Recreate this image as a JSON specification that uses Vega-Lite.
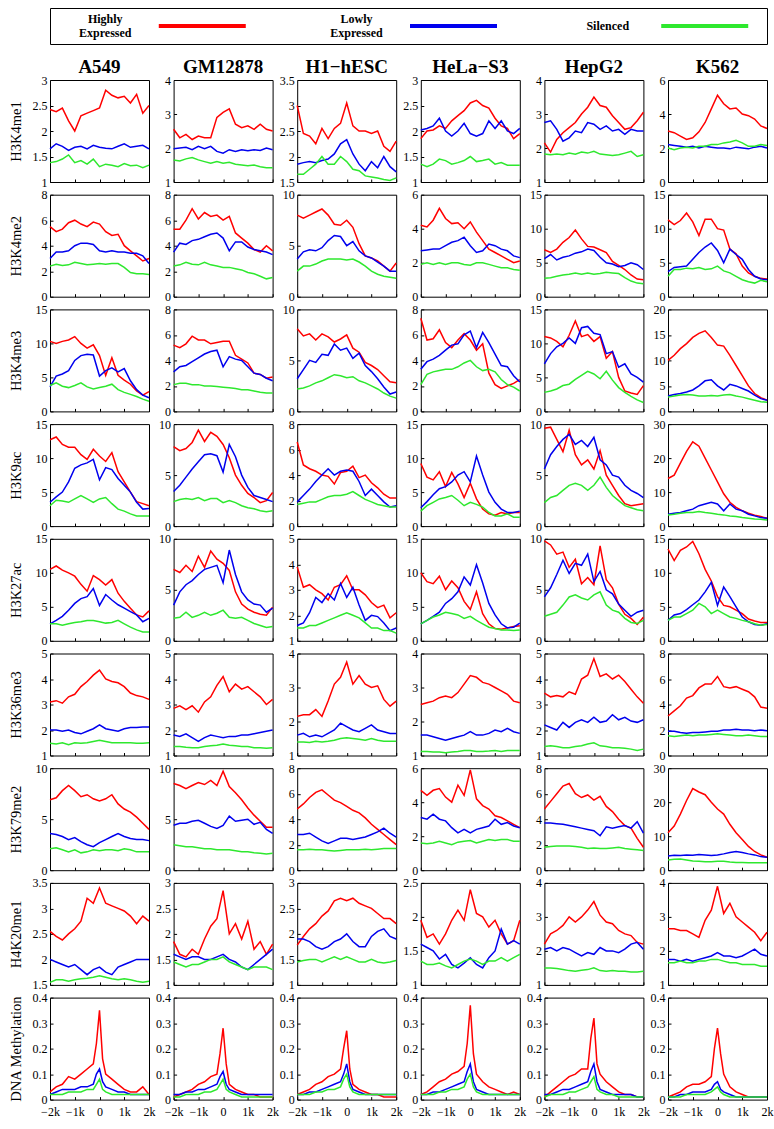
{
"$schema":"https://vega.github.io/schema/vega-lite/v6.json",
"padding":{"left":7,"top":7,"right":5,"bottom":5},
"background":"white",
"config":{
"font":"Liberation Serif",
"view":{"stroke":"black","strokeWidth":1,"continuousWidth":99,"continuousHeight":102},
"axis":{"domain":false,"grid":false,"ticks":true,"tickSize":-3,"tickColor":"black","labelPadding":6,"labelFont":"Liberation Serif","labelFontSize":12,"labelColor":"black","labelOverlap":false,"labelFlush":false,"titleFont":"Liberation Serif","titleFontSize":14.5,"titleFontWeight":"normal","titleColor":"black"},
"axisX":{"labels":false,"tickCount":5,"labelPadding":10,"labelExpr":"datum.value == 0 ? '0' : (datum.value < 0 ? '−' : '') + (abs(datum.value)/1000) + 'k'"},
"axisY":{"labelExpr":"format(datum.value, '~g')","titleX":-30,"titleBaseline":"alphabetic"},
"line":{"strokeWidth":1.5,"clip":true},
"range":{"category":["#ff0000","#0000ee","#2ee82e"]},
"title":{"font":"Liberation Serif","fontSize":19,"fontWeight":"bold","color":"black","anchor":"middle","baseline":"alphabetic","offset":-2.5},
"legend":{"disable":true}
},
"datasets":{
"A549 H3K4me1":[{"x":-2000,"H":2.42,"L":1.65,"S":1.38},{"x":-1750,"H":2.38,"L":1.75,"S":1.4},{"x":-1500,"H":2.45,"L":1.7,"S":1.45},{"x":-1250,"H":2.2,"L":1.62,"S":1.53},{"x":-1000,"H":2.0,"L":1.68,"S":1.38},{"x":-750,"H":2.3,"L":1.7,"S":1.42},{"x":-500,"H":2.35,"L":1.65,"S":1.35},{"x":-250,"H":2.4,"L":1.72,"S":1.45},{"x":0,"H":2.45,"L":1.68,"S":1.3},{"x":250,"H":2.8,"L":1.66,"S":1.35},{"x":500,"H":2.7,"L":1.65,"S":1.33},{"x":750,"H":2.65,"L":1.7,"S":1.3},{"x":1000,"H":2.68,"L":1.75,"S":1.36},{"x":1250,"H":2.55,"L":1.68,"S":1.32},{"x":1500,"H":2.72,"L":1.7,"S":1.33},{"x":1750,"H":2.35,"L":1.72,"S":1.28},{"x":2000,"H":2.5,"L":1.65,"S":1.33}],
"GM12878 H3K4me1":[{"x":-2000,"H":2.55,"L":1.98,"S":1.65},{"x":-1750,"H":2.3,"L":2.0,"S":1.62},{"x":-1500,"H":2.4,"L":2.02,"S":1.68},{"x":-1250,"H":2.25,"L":1.95,"S":1.72},{"x":-1000,"H":2.35,"L":2.05,"S":1.65},{"x":-750,"H":2.3,"L":1.98,"S":1.6},{"x":-500,"H":2.3,"L":2.05,"S":1.55},{"x":-250,"H":2.9,"L":1.9,"S":1.6},{"x":0,"H":3.05,"L":1.85,"S":1.55},{"x":250,"H":3.15,"L":1.95,"S":1.58},{"x":500,"H":2.7,"L":1.9,"S":1.52},{"x":750,"H":2.6,"L":1.95,"S":1.5},{"x":1000,"H":2.65,"L":1.92,"S":1.48},{"x":1250,"H":2.55,"L":1.95,"S":1.5},{"x":1500,"H":2.7,"L":1.93,"S":1.45},{"x":1750,"H":2.55,"L":2.0,"S":1.42},{"x":2000,"H":2.5,"L":1.95,"S":1.42}],
"H1 H3K4me1":[{"x":-2000,"H":3.0,"L":1.85,"S":1.65},{"x":-1750,"H":2.45,"L":1.88,"S":1.65},{"x":-1500,"H":2.4,"L":1.9,"S":1.75},{"x":-1250,"H":2.25,"L":1.88,"S":1.85},{"x":-1000,"H":2.55,"L":1.92,"S":2.0},{"x":-750,"H":2.35,"L":1.95,"S":1.85},{"x":-500,"H":2.55,"L":2.05,"S":1.85},{"x":-250,"H":2.65,"L":2.25,"S":2.0},{"x":0,"H":3.05,"L":2.33,"S":1.9},{"x":250,"H":2.6,"L":2.05,"S":1.75},{"x":500,"H":2.5,"L":1.85,"S":1.72},{"x":750,"H":2.5,"L":1.72,"S":1.62},{"x":1000,"H":2.45,"L":1.9,"S":1.6},{"x":1250,"H":2.5,"L":1.78,"S":1.58},{"x":1500,"H":2.2,"L":2.0,"S":1.55},{"x":1750,"H":2.1,"L":1.8,"S":1.53},{"x":2000,"H":2.3,"L":1.7,"S":1.58}],
"HeLa H3K4me1":[{"x":-2000,"H":1.85,"L":2.02,"S":1.35},{"x":-1750,"H":2.0,"L":2.05,"S":1.3},{"x":-1500,"H":2.02,"L":2.1,"S":1.35},{"x":-1250,"H":2.1,"L":2.25,"S":1.45},{"x":-1000,"H":2.05,"L":2.0,"S":1.42},{"x":-750,"H":2.2,"L":1.9,"S":1.35},{"x":-500,"H":2.3,"L":2.0,"S":1.38},{"x":-250,"H":2.4,"L":2.15,"S":1.42},{"x":0,"H":2.55,"L":1.95,"S":1.5},{"x":250,"H":2.6,"L":1.9,"S":1.4},{"x":500,"H":2.5,"L":1.95,"S":1.42},{"x":750,"H":2.45,"L":2.2,"S":1.45},{"x":1000,"H":2.25,"L":2.05,"S":1.35},{"x":1250,"H":2.1,"L":2.2,"S":1.38},{"x":1500,"H":2.05,"L":2.0,"S":1.33},{"x":1750,"H":1.85,"L":1.95,"S":1.33},{"x":2000,"H":1.95,"L":2.05,"S":1.33}],
"HepG2 H3K4me1":[{"x":-2000,"H":2.15,"L":2.75,"S":1.82},{"x":-1750,"H":1.88,"L":2.8,"S":1.8},{"x":-1500,"H":2.25,"L":2.55,"S":1.82},{"x":-1250,"H":2.45,"L":2.2,"S":1.8},{"x":-1000,"H":2.6,"L":2.3,"S":1.85},{"x":-750,"H":2.75,"L":2.5,"S":1.82},{"x":-500,"H":3.0,"L":2.45,"S":1.88},{"x":-250,"H":3.2,"L":2.75,"S":1.85},{"x":0,"H":3.5,"L":2.7,"S":1.9},{"x":250,"H":3.25,"L":2.55,"S":1.82},{"x":500,"H":3.2,"L":2.65,"S":1.8},{"x":750,"H":2.95,"L":2.5,"S":1.78},{"x":1000,"H":2.75,"L":2.55,"S":1.8},{"x":1250,"H":2.55,"L":2.4,"S":1.85},{"x":1500,"H":2.6,"L":2.55,"S":1.9},{"x":1750,"H":2.8,"L":2.5,"S":1.75},{"x":2000,"H":3.05,"L":2.5,"S":1.8}],
"K562 H3K4me1":[{"x":-2000,"H":3.0,"L":2.2,"S":2.0},{"x":-1750,"H":2.9,"L":2.15,"S":1.9},{"x":-1500,"H":2.7,"L":2.1,"S":2.0},{"x":-1250,"H":2.5,"L":2.05,"S":2.05},{"x":-1000,"H":2.6,"L":2.1,"S":2.0},{"x":-750,"H":2.95,"L":2.0,"S":2.1},{"x":-500,"H":3.5,"L":2.1,"S":2.1},{"x":-250,"H":4.3,"L":2.05,"S":2.2},{"x":0,"H":5.1,"L":2.0,"S":2.2},{"x":250,"H":4.6,"L":2.0,"S":2.3},{"x":500,"H":4.3,"L":1.95,"S":2.35},{"x":750,"H":4.35,"L":2.05,"S":2.45},{"x":1000,"H":4.0,"L":2.0,"S":2.3},{"x":1250,"H":3.9,"L":1.95,"S":2.1},{"x":1500,"H":3.7,"L":2.05,"S":2.1},{"x":1750,"H":3.3,"L":2.1,"S":2.2},{"x":2000,"H":3.15,"L":2.0,"S":2.15}],
"A549 H3K4me2":[{"x":-2000,"H":5.5,"L":3.0,"S":2.4},{"x":-1750,"H":5.1,"L":3.5,"S":2.55},{"x":-1500,"H":5.3,"L":3.5,"S":2.45},{"x":-1250,"H":5.8,"L":3.6,"S":2.5},{"x":-1000,"H":6.0,"L":4.0,"S":2.7},{"x":-750,"H":5.7,"L":4.2,"S":2.6},{"x":-500,"H":5.5,"L":4.2,"S":2.5},{"x":-250,"H":5.85,"L":4.1,"S":2.55},{"x":0,"H":5.7,"L":3.6,"S":2.6},{"x":250,"H":5.1,"L":3.5,"S":2.55},{"x":500,"H":4.8,"L":3.6,"S":2.6},{"x":750,"H":4.9,"L":3.5,"S":2.6},{"x":1000,"H":4.0,"L":3.5,"S":2.3},{"x":1250,"H":3.6,"L":3.4,"S":1.9},{"x":1500,"H":3.2,"L":3.4,"S":1.8},{"x":1750,"H":2.8,"L":3.2,"S":1.8},{"x":2000,"H":3.0,"L":2.6,"S":1.75}],
"GM12878 H3K4me2":[{"x":-2000,"H":5.3,"L":3.5,"S":2.4},{"x":-1750,"H":5.3,"L":4.2,"S":2.5},{"x":-1500,"H":6.0,"L":4.1,"S":2.7},{"x":-1250,"H":6.9,"L":4.4,"S":2.55},{"x":-1000,"H":6.1,"L":4.5,"S":2.5},{"x":-750,"H":6.6,"L":4.7,"S":2.7},{"x":-500,"H":6.3,"L":4.9,"S":2.5},{"x":-250,"H":6.4,"L":5.0,"S":2.4},{"x":0,"H":6.0,"L":4.6,"S":2.3},{"x":250,"H":6.3,"L":3.6,"S":2.3},{"x":500,"H":5.0,"L":4.3,"S":2.2},{"x":750,"H":4.6,"L":4.3,"S":2.1},{"x":1000,"H":4.2,"L":3.9,"S":1.9},{"x":1250,"H":3.7,"L":3.7,"S":1.8},{"x":1500,"H":3.5,"L":3.6,"S":1.6},{"x":1750,"H":4.0,"L":3.5,"S":1.4},{"x":2000,"H":3.6,"L":3.3,"S":1.5}],
"H1 H3K4me2":[{"x":-2000,"H":8.0,"L":3.7,"S":2.5},{"x":-1750,"H":7.7,"L":4.4,"S":3.0},{"x":-1500,"H":8.0,"L":4.6,"S":3.0},{"x":-1250,"H":8.3,"L":4.5,"S":3.2},{"x":-1000,"H":8.6,"L":4.8,"S":3.5},{"x":-750,"H":8.0,"L":5.5,"S":3.7},{"x":-500,"H":7.1,"L":6.0,"S":3.7},{"x":-250,"H":7.0,"L":5.9,"S":3.7},{"x":0,"H":7.5,"L":5.0,"S":3.6},{"x":250,"H":6.8,"L":5.4,"S":3.7},{"x":500,"H":5.2,"L":4.5,"S":3.4},{"x":750,"H":4.0,"L":4.0,"S":3.0},{"x":1000,"H":3.8,"L":3.8,"S":2.5},{"x":1250,"H":3.5,"L":3.4,"S":2.2},{"x":1500,"H":3.0,"L":3.0,"S":2.0},{"x":1750,"H":2.5,"L":2.5,"S":1.9},{"x":2000,"H":3.3,"L":2.5,"S":1.8}],
"HeLa H3K4me2":[{"x":-2000,"H":4.2,"L":2.7,"S":1.9},{"x":-1750,"H":4.1,"L":2.75,"S":2.0},{"x":-1500,"H":4.5,"L":2.8,"S":1.9},{"x":-1250,"H":5.2,"L":2.8,"S":2.0},{"x":-1000,"H":4.6,"L":3.0,"S":1.9},{"x":-750,"H":4.3,"L":3.2,"S":2.0},{"x":-500,"H":4.35,"L":3.3,"S":2.0},{"x":-250,"H":4.0,"L":3.5,"S":1.9},{"x":0,"H":4.4,"L":3.0,"S":1.85},{"x":250,"H":3.8,"L":2.6,"S":2.0},{"x":500,"H":3.3,"L":2.7,"S":2.0},{"x":750,"H":2.8,"L":3.1,"S":1.9},{"x":1000,"H":2.6,"L":3.0,"S":1.8},{"x":1250,"H":2.4,"L":2.8,"S":1.7},{"x":1500,"H":2.2,"L":2.7,"S":1.7},{"x":1750,"H":2.0,"L":2.4,"S":1.6},{"x":2000,"H":2.1,"L":2.3,"S":1.55}],
"HepG2 H3K4me2":[{"x":-2000,"H":6.9,"L":5.6,"S":2.7},{"x":-1750,"H":6.5,"L":6.2,"S":2.8},{"x":-1500,"H":7.0,"L":5.4,"S":3.0},{"x":-1250,"H":8.0,"L":5.8,"S":3.2},{"x":-1000,"H":8.7,"L":6.0,"S":3.3},{"x":-750,"H":9.8,"L":6.4,"S":3.5},{"x":-500,"H":8.5,"L":6.6,"S":3.3},{"x":-250,"H":7.4,"L":7.0,"S":3.5},{"x":0,"H":7.3,"L":6.8,"S":3.3},{"x":250,"H":6.9,"L":5.8,"S":3.4},{"x":500,"H":6.5,"L":5.0,"S":3.6},{"x":750,"H":5.2,"L":4.8,"S":3.5},{"x":1000,"H":4.6,"L":4.4,"S":3.4},{"x":1250,"H":4.0,"L":4.6,"S":2.8},{"x":1500,"H":3.2,"L":5.0,"S":2.3},{"x":1750,"H":2.6,"L":4.7,"S":2.0},{"x":2000,"H":2.5,"L":4.0,"S":1.9}],
"K562 H3K4me2":[{"x":-2000,"H":11.3,"L":3.7,"S":3.0},{"x":-1750,"H":10.6,"L":4.3,"S":4.0},{"x":-1500,"H":11.2,"L":4.4,"S":4.0},{"x":-1250,"H":12.3,"L":4.5,"S":4.2},{"x":-1000,"H":11.0,"L":5.5,"S":4.1},{"x":-750,"H":9.0,"L":6.5,"S":4.3},{"x":-500,"H":11.4,"L":7.3,"S":4.0},{"x":-250,"H":11.4,"L":7.9,"S":4.1},{"x":0,"H":10.0,"L":6.8,"S":4.5},{"x":250,"H":9.8,"L":5.0,"S":3.8},{"x":500,"H":7.0,"L":7.0,"S":3.5},{"x":750,"H":6.3,"L":6.2,"S":3.0},{"x":1000,"H":4.5,"L":5.5,"S":2.5},{"x":1250,"H":3.5,"L":4.0,"S":2.2},{"x":1500,"H":3.0,"L":3.0,"S":2.0},{"x":1750,"H":2.7,"L":2.6,"S":2.4},{"x":2000,"H":2.6,"L":2.5,"S":2.2}],
"A549 H3K4me3":[{"x":-2000,"H":10.3,"L":3.6,"S":3.8},{"x":-1750,"H":10.0,"L":5.2,"S":4.2},{"x":-1500,"H":10.3,"L":5.5,"S":3.7},{"x":-1250,"H":10.5,"L":6.0,"S":3.5},{"x":-1000,"H":11.0,"L":7.5,"S":3.8},{"x":-750,"H":10.0,"L":8.2,"S":4.2},{"x":-500,"H":9.3,"L":8.4,"S":3.6},{"x":-250,"H":9.8,"L":8.3,"S":3.3},{"x":0,"H":8.2,"L":5.2,"S":3.5},{"x":250,"H":5.3,"L":6.0,"S":3.7},{"x":500,"H":7.9,"L":6.4,"S":4.0},{"x":750,"H":5.3,"L":5.8,"S":3.2},{"x":1000,"H":4.6,"L":6.3,"S":2.8},{"x":1250,"H":4.0,"L":4.5,"S":2.5},{"x":1500,"H":3.0,"L":3.2,"S":2.2},{"x":1750,"H":2.4,"L":2.4,"S":1.8},{"x":2000,"H":2.9,"L":2.0,"S":1.5}],
"GM12878 H3K4me3":[{"x":-2000,"H":5.2,"L":3.1,"S":2.1},{"x":-1750,"H":5.0,"L":3.5,"S":2.2},{"x":-1500,"H":5.3,"L":3.6,"S":2.2},{"x":-1250,"H":5.9,"L":3.9,"S":2.1},{"x":-1000,"H":5.6,"L":4.2,"S":2.1},{"x":-750,"H":5.6,"L":4.5,"S":2.0},{"x":-500,"H":5.3,"L":4.7,"S":2.0},{"x":-250,"H":5.4,"L":4.8,"S":1.95},{"x":0,"H":5.5,"L":3.5,"S":1.9},{"x":250,"H":5.5,"L":4.3,"S":1.85},{"x":500,"H":4.4,"L":4.1,"S":1.8},{"x":750,"H":4.1,"L":4.0,"S":1.7},{"x":1000,"H":3.8,"L":3.5,"S":1.7},{"x":1250,"H":3.0,"L":3.0,"S":1.6},{"x":1500,"H":2.9,"L":2.9,"S":1.5},{"x":1750,"H":2.6,"L":2.6,"S":1.45},{"x":2000,"H":2.7,"L":2.4,"S":1.45}],
"H1 H3K4me3":[{"x":-2000,"H":8.1,"L":3.2,"S":2.2},{"x":-1750,"H":7.4,"L":4.1,"S":2.3},{"x":-1500,"H":7.6,"L":5.0,"S":2.5},{"x":-1250,"H":7.0,"L":4.8,"S":2.8},{"x":-1000,"H":7.6,"L":5.6,"S":3.0},{"x":-750,"H":7.3,"L":5.5,"S":3.3},{"x":-500,"H":6.8,"L":6.6,"S":3.6},{"x":-250,"H":7.1,"L":6.0,"S":3.5},{"x":0,"H":7.5,"L":6.2,"S":3.3},{"x":250,"H":6.2,"L":5.2,"S":3.4},{"x":500,"H":5.8,"L":5.7,"S":3.0},{"x":750,"H":4.8,"L":4.5,"S":2.8},{"x":1000,"H":4.5,"L":3.9,"S":2.5},{"x":1250,"H":4.1,"L":3.2,"S":2.2},{"x":1500,"H":3.5,"L":2.4,"S":1.8},{"x":1750,"H":2.9,"L":1.7,"S":1.5},{"x":2000,"H":2.8,"L":1.9,"S":1.3}],
"HeLa H3K4me3":[{"x":-2000,"H":7.3,"L":3.3,"S":2.1},{"x":-1750,"H":5.6,"L":3.9,"S":2.9},{"x":-1500,"H":5.7,"L":4.1,"S":3.1},{"x":-1250,"H":6.4,"L":4.4,"S":3.2},{"x":-1000,"H":5.4,"L":4.8,"S":3.3},{"x":-750,"H":5.0,"L":5.2,"S":3.3},{"x":-500,"H":5.6,"L":5.3,"S":3.5},{"x":-250,"H":6.1,"L":6.0,"S":3.8},{"x":0,"H":5.6,"L":6.3,"S":4.0},{"x":250,"H":4.8,"L":5.0,"S":3.5},{"x":500,"H":5.3,"L":6.2,"S":3.2},{"x":750,"H":3.0,"L":5.4,"S":3.3},{"x":1000,"H":2.1,"L":4.5,"S":3.1},{"x":1250,"H":1.8,"L":3.6,"S":2.5},{"x":1500,"H":2.0,"L":3.5,"S":2.1},{"x":1750,"H":2.2,"L":2.8,"S":1.9},{"x":2000,"H":2.5,"L":2.3,"S":1.6}],
"HepG2 H3K4me3":[{"x":-2000,"H":11.0,"L":7.0,"S":2.8},{"x":-1750,"H":10.8,"L":8.5,"S":3.0},{"x":-1500,"H":10.3,"L":9.5,"S":3.3},{"x":-1250,"H":9.5,"L":10.0,"S":3.8},{"x":-1000,"H":11.2,"L":10.8,"S":4.0},{"x":-750,"H":13.3,"L":10.0,"S":4.7},{"x":-500,"H":11.0,"L":12.3,"S":5.3},{"x":-250,"H":11.3,"L":12.5,"S":5.9},{"x":0,"H":10.3,"L":11.5,"S":5.5},{"x":250,"H":11.0,"L":11.3,"S":4.8},{"x":500,"H":7.8,"L":8.5,"S":5.9},{"x":750,"H":8.8,"L":8.8,"S":4.6},{"x":1000,"H":5.0,"L":6.5,"S":3.5},{"x":1250,"H":3.0,"L":7.0,"S":2.8},{"x":1500,"H":2.7,"L":5.5,"S":2.2},{"x":1750,"H":2.5,"L":5.0,"S":1.7},{"x":2000,"H":3.8,"L":4.3,"S":1.3}],
"K562 H3K4me3":[{"x":-2000,"H":10.0,"L":3.0,"S":2.8},{"x":-1750,"H":11.0,"L":3.3,"S":3.0},{"x":-1500,"H":12.3,"L":3.5,"S":3.2},{"x":-1250,"H":13.3,"L":3.8,"S":3.3},{"x":-1000,"H":14.5,"L":4.2,"S":3.2},{"x":-750,"H":15.3,"L":5.0,"S":3.0},{"x":-500,"H":15.8,"L":6.0,"S":3.0},{"x":-250,"H":14.5,"L":6.2,"S":3.1},{"x":0,"H":13.0,"L":5.0,"S":3.0},{"x":250,"H":12.8,"L":4.2,"S":3.2},{"x":500,"H":11.0,"L":5.3,"S":3.3},{"x":750,"H":9.0,"L":5.0,"S":3.0},{"x":1000,"H":7.0,"L":4.5,"S":2.8},{"x":1250,"H":5.0,"L":4.0,"S":2.5},{"x":1500,"H":3.5,"L":3.2,"S":2.2},{"x":1750,"H":2.7,"L":2.5,"S":1.9},{"x":2000,"H":2.2,"L":2.2,"S":1.8}],
"A549 H3K9ac":[{"x":-2000,"H":12.7,"L":3.5,"S":3.0},{"x":-1750,"H":13.1,"L":4.3,"S":3.8},{"x":-1500,"H":12.0,"L":5.0,"S":3.7},{"x":-1250,"H":11.6,"L":6.5,"S":3.5},{"x":-1000,"H":11.6,"L":8.5,"S":4.0},{"x":-750,"H":10.5,"L":9.0,"S":4.5},{"x":-500,"H":9.8,"L":9.3,"S":4.0},{"x":-250,"H":11.3,"L":9.8,"S":3.5},{"x":0,"H":10.3,"L":6.8,"S":4.0},{"x":250,"H":9.5,"L":8.6,"S":4.2},{"x":500,"H":10.8,"L":8.3,"S":3.3},{"x":750,"H":8.0,"L":7.0,"S":2.5},{"x":1000,"H":6.5,"L":6.0,"S":2.2},{"x":1250,"H":5.0,"L":5.0,"S":1.8},{"x":1500,"H":3.6,"L":3.5,"S":1.5},{"x":1750,"H":3.3,"L":2.5,"S":1.5},{"x":2000,"H":3.0,"L":2.6,"S":1.5}],
"GM12878 H3K9ac":[{"x":-2000,"H":7.8,"L":3.4,"S":2.4},{"x":-1750,"H":7.4,"L":4.0,"S":2.6},{"x":-1500,"H":7.6,"L":4.8,"S":2.7},{"x":-1250,"H":8.2,"L":5.6,"S":2.6},{"x":-1000,"H":9.4,"L":6.3,"S":2.8},{"x":-750,"H":8.3,"L":7.0,"S":2.5},{"x":-500,"H":9.2,"L":7.1,"S":2.7},{"x":-250,"H":8.8,"L":6.9,"S":2.7},{"x":0,"H":8.0,"L":5.3,"S":2.3},{"x":250,"H":6.7,"L":8.0,"S":2.5},{"x":500,"H":5.0,"L":6.8,"S":2.3},{"x":750,"H":4.0,"L":5.0,"S":2.0},{"x":1000,"H":3.2,"L":3.8,"S":1.8},{"x":1250,"H":2.8,"L":3.0,"S":1.7},{"x":1500,"H":2.3,"L":2.8,"S":1.5},{"x":1750,"H":2.5,"L":2.6,"S":1.4},{"x":2000,"H":3.3,"L":2.4,"S":1.5}],
"H1 H3K9ac":[{"x":-2000,"H":6.6,"L":1.9,"S":1.7},{"x":-1750,"H":4.8,"L":2.4,"S":1.8},{"x":-1500,"H":4.5,"L":2.9,"S":1.9},{"x":-1250,"H":4.3,"L":3.5,"S":1.9},{"x":-1000,"H":4.0,"L":4.0,"S":2.1},{"x":-750,"H":3.9,"L":4.5,"S":2.3},{"x":-500,"H":3.3,"L":4.0,"S":2.4},{"x":-250,"H":4.2,"L":4.3,"S":2.4},{"x":0,"H":4.3,"L":4.4,"S":2.5},{"x":250,"H":4.7,"L":4.3,"S":2.7},{"x":500,"H":3.8,"L":3.5,"S":2.4},{"x":750,"H":4.0,"L":2.4,"S":2.1},{"x":1000,"H":3.4,"L":2.9,"S":1.9},{"x":1250,"H":3.0,"L":2.4,"S":1.7},{"x":1500,"H":2.5,"L":1.9,"S":1.6},{"x":1750,"H":2.2,"L":1.5,"S":1.5},{"x":2000,"H":2.2,"L":1.6,"S":1.5}],
"HeLa H3K9ac":[{"x":-2000,"H":9.2,"L":2.7,"S":2.2},{"x":-1750,"H":7.2,"L":3.6,"S":3.0},{"x":-1500,"H":6.8,"L":4.6,"S":3.5},{"x":-1250,"H":8.0,"L":5.5,"S":4.0},{"x":-1000,"H":5.8,"L":5.8,"S":4.2},{"x":-750,"H":7.9,"L":6.5,"S":4.5},{"x":-500,"H":6.2,"L":7.5,"S":3.8},{"x":-250,"H":4.2,"L":8.0,"S":3.0},{"x":0,"H":6.3,"L":6.5,"S":3.5},{"x":250,"H":4.0,"L":10.3,"S":3.2},{"x":500,"H":2.5,"L":7.5,"S":2.8},{"x":750,"H":1.8,"L":5.0,"S":2.0},{"x":1000,"H":1.6,"L":3.5,"S":1.5},{"x":1250,"H":2.0,"L":2.5,"S":1.5},{"x":1500,"H":1.8,"L":2.0,"S":1.8},{"x":1750,"H":2.0,"L":2.0,"S":1.3},{"x":2000,"H":2.0,"L":2.2,"S":1.3}],
"HepG2 H3K9ac":[{"x":-2000,"H":9.6,"L":5.6,"S":2.3},{"x":-1750,"H":9.7,"L":7.0,"S":2.8},{"x":-1500,"H":8.5,"L":7.8,"S":3.0},{"x":-1250,"H":7.3,"L":8.5,"S":3.5},{"x":-1000,"H":9.4,"L":9.0,"S":4.0},{"x":-750,"H":7.0,"L":8.0,"S":4.2},{"x":-500,"H":6.0,"L":8.4,"S":4.0},{"x":-250,"H":6.5,"L":7.8,"S":3.5},{"x":0,"H":5.6,"L":8.7,"S":4.0},{"x":250,"H":7.4,"L":6.5,"S":4.8},{"x":500,"H":5.0,"L":6.0,"S":3.8},{"x":750,"H":4.0,"L":5.0,"S":3.0},{"x":1000,"H":3.0,"L":4.8,"S":2.5},{"x":1250,"H":2.2,"L":4.0,"S":2.0},{"x":1500,"H":2.0,"L":3.5,"S":1.8},{"x":1750,"H":2.1,"L":3.2,"S":1.6},{"x":2000,"H":2.2,"L":2.8,"S":1.5}],
"K562 H3K9ac":[{"x":-2000,"H":14.0,"L":3.5,"S":3.3},{"x":-1750,"H":15.0,"L":3.8,"S":3.5},{"x":-1500,"H":18.5,"L":4.0,"S":3.8},{"x":-1250,"H":22.0,"L":4.5,"S":4.0},{"x":-1000,"H":24.8,"L":5.0,"S":4.0},{"x":-750,"H":23.5,"L":6.0,"S":4.3},{"x":-500,"H":20.0,"L":6.5,"S":4.0},{"x":-250,"H":16.5,"L":7.0,"S":3.8},{"x":0,"H":13.0,"L":6.5,"S":3.5},{"x":250,"H":9.5,"L":4.5,"S":3.3},{"x":500,"H":7.0,"L":6.5,"S":3.0},{"x":750,"H":5.5,"L":5.0,"S":2.8},{"x":1000,"H":4.5,"L":4.5,"S":2.5},{"x":1250,"H":3.8,"L":3.5,"S":2.3},{"x":1500,"H":3.2,"L":3.0,"S":2.1},{"x":1750,"H":2.8,"L":2.5,"S":2.0},{"x":2000,"H":2.3,"L":2.3,"S":1.8}],
"A549 H3K27ac":[{"x":-2000,"H":10.5,"L":2.5,"S":2.5},{"x":-1750,"H":11.0,"L":3.0,"S":2.5},{"x":-1500,"H":10.4,"L":3.6,"S":2.3},{"x":-1250,"H":10.0,"L":4.5,"S":2.5},{"x":-1000,"H":9.5,"L":5.5,"S":2.7},{"x":-750,"H":8.3,"L":6.2,"S":2.8},{"x":-500,"H":7.3,"L":6.5,"S":3.0},{"x":-250,"H":9.6,"L":7.7,"S":3.0},{"x":0,"H":9.0,"L":5.2,"S":2.8},{"x":250,"H":8.2,"L":6.8,"S":2.6},{"x":500,"H":9.0,"L":6.0,"S":2.7},{"x":750,"H":7.0,"L":5.3,"S":3.0},{"x":1000,"H":5.8,"L":4.8,"S":2.5},{"x":1250,"H":4.8,"L":4.3,"S":2.0},{"x":1500,"H":3.8,"L":3.8,"S":1.6},{"x":1750,"H":3.5,"L":2.8,"S":1.3},{"x":2000,"H":4.4,"L":3.3,"S":1.3}],
"GM12878 H3K27ac":[{"x":-2000,"H":7.0,"L":3.5,"S":2.2},{"x":-1750,"H":6.7,"L":4.8,"S":2.3},{"x":-1500,"H":7.4,"L":5.5,"S":2.8},{"x":-1250,"H":6.8,"L":5.9,"S":2.3},{"x":-1000,"H":8.3,"L":6.5,"S":2.5},{"x":-750,"H":7.2,"L":7.0,"S":2.8},{"x":-500,"H":8.8,"L":7.2,"S":2.5},{"x":-250,"H":8.0,"L":7.4,"S":2.7},{"x":0,"H":7.6,"L":5.7,"S":3.0},{"x":250,"H":6.9,"L":8.9,"S":2.3},{"x":500,"H":4.8,"L":6.5,"S":2.2},{"x":750,"H":3.6,"L":4.8,"S":2.3},{"x":1000,"H":3.1,"L":4.0,"S":2.0},{"x":1250,"H":2.8,"L":3.6,"S":1.7},{"x":1500,"H":2.6,"L":3.5,"S":1.5},{"x":1750,"H":2.5,"L":2.8,"S":1.3},{"x":2000,"H":3.3,"L":3.2,"S":1.4}],
"H1 H3K27ac":[{"x":-2000,"H":3.9,"L":1.6,"S":1.5},{"x":-1750,"H":3.1,"L":1.7,"S":1.5},{"x":-1500,"H":3.2,"L":2.1,"S":1.6},{"x":-1250,"H":3.0,"L":2.7,"S":1.6},{"x":-1000,"H":2.85,"L":2.5,"S":1.7},{"x":-750,"H":2.6,"L":2.85,"S":1.8},{"x":-500,"H":3.1,"L":2.6,"S":1.9},{"x":-250,"H":3.2,"L":3.25,"S":2.0},{"x":0,"H":3.55,"L":2.7,"S":2.1},{"x":250,"H":3.0,"L":3.1,"S":2.0},{"x":500,"H":3.0,"L":2.4,"S":1.9},{"x":750,"H":2.8,"L":1.8,"S":1.7},{"x":1000,"H":2.5,"L":2.0,"S":1.5},{"x":1250,"H":2.3,"L":1.95,"S":1.5},{"x":1500,"H":2.4,"L":1.7,"S":1.4},{"x":1750,"H":1.9,"L":1.4,"S":1.4},{"x":2000,"H":2.1,"L":1.5,"S":1.3}],
"HeLa H3K27ac":[{"x":-2000,"H":10.0,"L":2.5,"S":2.5},{"x":-1750,"H":8.7,"L":3.0,"S":3.0},{"x":-1500,"H":8.4,"L":3.6,"S":3.5},{"x":-1250,"H":9.5,"L":4.2,"S":3.8},{"x":-1000,"H":7.5,"L":5.5,"S":4.2},{"x":-750,"H":8.8,"L":6.2,"S":4.0},{"x":-500,"H":7.8,"L":7.2,"S":3.8},{"x":-250,"H":5.8,"L":9.4,"S":3.3},{"x":0,"H":4.6,"L":8.2,"S":3.6},{"x":250,"H":7.2,"L":11.2,"S":3.0},{"x":500,"H":4.0,"L":8.5,"S":2.5},{"x":750,"H":2.5,"L":5.5,"S":2.0},{"x":1000,"H":1.8,"L":3.8,"S":1.8},{"x":1250,"H":1.7,"L":2.5,"S":1.6},{"x":1500,"H":1.9,"L":1.9,"S":1.6},{"x":1750,"H":2.1,"L":2.0,"S":1.5},{"x":2000,"H":2.2,"L":2.6,"S":1.6}],
"HepG2 H3K27ac":[{"x":-2000,"H":9.8,"L":4.3,"S":2.4},{"x":-1750,"H":9.4,"L":5.2,"S":2.6},{"x":-1500,"H":8.5,"L":6.5,"S":2.8},{"x":-1250,"H":8.7,"L":7.9,"S":3.5},{"x":-1000,"H":7.2,"L":6.6,"S":4.3},{"x":-750,"H":8.0,"L":7.6,"S":4.5},{"x":-500,"H":5.6,"L":7.4,"S":4.2},{"x":-250,"H":6.2,"L":8.5,"S":4.0},{"x":0,"H":5.5,"L":5.8,"S":4.5},{"x":250,"H":9.3,"L":6.8,"S":4.8},{"x":500,"H":6.0,"L":5.0,"S":3.5},{"x":750,"H":5.2,"L":4.6,"S":3.0},{"x":1000,"H":3.6,"L":3.6,"S":2.8},{"x":1250,"H":2.6,"L":3.0,"S":2.2},{"x":1500,"H":2.2,"L":2.4,"S":1.8},{"x":1750,"H":1.6,"L":2.8,"S":1.7},{"x":2000,"H":2.3,"L":3.0,"S":2.0}],
"K562 H3K27ac":[{"x":-2000,"H":13.5,"L":3.0,"S":3.0},{"x":-1750,"H":11.8,"L":3.8,"S":3.5},{"x":-1500,"H":13.3,"L":4.0,"S":3.5},{"x":-1250,"H":13.8,"L":4.6,"S":4.0},{"x":-1000,"H":14.6,"L":5.3,"S":4.5},{"x":-750,"H":12.8,"L":6.0,"S":5.5},{"x":-500,"H":10.5,"L":7.2,"S":5.0},{"x":-250,"H":8.8,"L":8.6,"S":4.0},{"x":0,"H":6.5,"L":5.2,"S":4.5},{"x":250,"H":5.2,"L":7.9,"S":4.0},{"x":500,"H":5.0,"L":6.5,"S":3.5},{"x":750,"H":4.5,"L":5.0,"S":3.3},{"x":1000,"H":4.0,"L":3.5,"S":3.0},{"x":1250,"H":3.2,"L":2.8,"S":2.8},{"x":1500,"H":2.9,"L":2.4,"S":2.5},{"x":1750,"H":2.7,"L":2.3,"S":2.3},{"x":2000,"H":2.7,"L":2.5,"S":2.4}],
"A549 H3K36me3":[{"x":-2000,"H":3.1,"L":2.0,"S":1.48},{"x":-1750,"H":3.15,"L":2.0,"S":1.45},{"x":-1500,"H":3.05,"L":1.95,"S":1.5},{"x":-1250,"H":3.3,"L":2.0,"S":1.42},{"x":-1000,"H":3.4,"L":1.9,"S":1.5},{"x":-750,"H":3.7,"L":1.85,"S":1.48},{"x":-500,"H":3.9,"L":1.95,"S":1.5},{"x":-250,"H":4.15,"L":2.05,"S":1.55},{"x":0,"H":4.35,"L":2.2,"S":1.6},{"x":250,"H":4.0,"L":2.05,"S":1.55},{"x":500,"H":3.9,"L":2.0,"S":1.5},{"x":750,"H":3.85,"L":1.95,"S":1.5},{"x":1000,"H":3.7,"L":2.05,"S":1.5},{"x":1250,"H":3.45,"L":2.1,"S":1.5},{"x":1500,"H":3.35,"L":2.1,"S":1.48},{"x":1750,"H":3.3,"L":2.12,"S":1.48},{"x":2000,"H":3.2,"L":2.12,"S":1.5}],
"GM12878 H3K36me3":[{"x":-2000,"H":2.85,"L":1.8,"S":1.35},{"x":-1750,"H":2.95,"L":1.75,"S":1.35},{"x":-1500,"H":2.8,"L":1.85,"S":1.32},{"x":-1250,"H":2.95,"L":1.7,"S":1.3},{"x":-1000,"H":2.7,"L":1.55,"S":1.3},{"x":-750,"H":3.1,"L":1.7,"S":1.35},{"x":-500,"H":3.3,"L":1.8,"S":1.38},{"x":-250,"H":3.75,"L":1.75,"S":1.4},{"x":0,"H":4.1,"L":1.7,"S":1.45},{"x":250,"H":3.5,"L":1.75,"S":1.4},{"x":500,"H":3.8,"L":1.75,"S":1.38},{"x":750,"H":3.6,"L":1.8,"S":1.35},{"x":1000,"H":3.7,"L":1.8,"S":1.35},{"x":1250,"H":3.5,"L":1.85,"S":1.3},{"x":1500,"H":3.3,"L":1.9,"S":1.3},{"x":1750,"H":3.0,"L":1.95,"S":1.28},{"x":2000,"H":3.2,"L":2.0,"S":1.3}],
"H1 H3K36me3":[{"x":-2000,"H":2.15,"L":1.6,"S":1.4},{"x":-1750,"H":2.2,"L":1.65,"S":1.4},{"x":-1500,"H":2.2,"L":1.55,"S":1.38},{"x":-1250,"H":2.35,"L":1.6,"S":1.42},{"x":-1000,"H":2.15,"L":1.55,"S":1.4},{"x":-750,"H":2.6,"L":1.65,"S":1.42},{"x":-500,"H":3.1,"L":1.75,"S":1.45},{"x":-250,"H":3.3,"L":1.95,"S":1.5},{"x":0,"H":3.75,"L":1.85,"S":1.52},{"x":250,"H":3.1,"L":1.75,"S":1.5},{"x":500,"H":3.35,"L":1.7,"S":1.48},{"x":750,"H":3.1,"L":1.8,"S":1.45},{"x":1000,"H":3.0,"L":1.9,"S":1.5},{"x":1250,"H":3.05,"L":1.75,"S":1.45},{"x":1500,"H":2.65,"L":1.7,"S":1.42},{"x":1750,"H":2.45,"L":1.65,"S":1.42},{"x":2000,"H":2.6,"L":1.65,"S":1.42}],
"HeLa H3K36me3":[{"x":-2000,"H":2.5,"L":1.6,"S":1.12},{"x":-1750,"H":2.55,"L":1.6,"S":1.12},{"x":-1500,"H":2.6,"L":1.55,"S":1.1},{"x":-1250,"H":2.7,"L":1.5,"S":1.1},{"x":-1000,"H":2.75,"L":1.45,"S":1.08},{"x":-750,"H":2.7,"L":1.5,"S":1.1},{"x":-500,"H":2.85,"L":1.55,"S":1.12},{"x":-250,"H":3.1,"L":1.6,"S":1.15},{"x":0,"H":3.35,"L":1.7,"S":1.15},{"x":250,"H":3.3,"L":1.6,"S":1.12},{"x":500,"H":3.15,"L":1.6,"S":1.12},{"x":750,"H":3.1,"L":1.65,"S":1.13},{"x":1000,"H":3.0,"L":1.75,"S":1.15},{"x":1250,"H":2.9,"L":1.7,"S":1.12},{"x":1500,"H":2.8,"L":1.8,"S":1.15},{"x":1750,"H":2.6,"L":1.7,"S":1.15},{"x":2000,"H":2.55,"L":1.65,"S":1.15}],
"HepG2 H3K36me3":[{"x":-2000,"H":3.45,"L":2.2,"S":1.35},{"x":-1750,"H":3.3,"L":2.1,"S":1.38},{"x":-1500,"H":3.35,"L":2.0,"S":1.35},{"x":-1250,"H":3.3,"L":2.3,"S":1.3},{"x":-1000,"H":3.5,"L":2.1,"S":1.3},{"x":-750,"H":3.4,"L":2.3,"S":1.35},{"x":-500,"H":4.0,"L":2.4,"S":1.38},{"x":-250,"H":4.15,"L":2.3,"S":1.45},{"x":0,"H":4.8,"L":2.5,"S":1.5},{"x":250,"H":4.1,"L":2.3,"S":1.38},{"x":500,"H":4.2,"L":2.35,"S":1.35},{"x":750,"H":4.0,"L":2.6,"S":1.3},{"x":1000,"H":4.15,"L":2.4,"S":1.3},{"x":1250,"H":3.9,"L":2.5,"S":1.28},{"x":1500,"H":3.6,"L":2.35,"S":1.25},{"x":1750,"H":3.3,"L":2.3,"S":1.2},{"x":2000,"H":3.05,"L":2.4,"S":1.25}],
"K562 H3K36me3":[{"x":-2000,"H":3.1,"L":1.9,"S":1.55},{"x":-1750,"H":3.5,"L":1.9,"S":1.5},{"x":-1500,"H":3.9,"L":1.8,"S":1.55},{"x":-1250,"H":4.5,"L":1.75,"S":1.6},{"x":-1000,"H":4.7,"L":1.8,"S":1.55},{"x":-750,"H":5.3,"L":1.8,"S":1.6},{"x":-500,"H":5.6,"L":1.85,"S":1.6},{"x":-250,"H":5.6,"L":1.9,"S":1.65},{"x":0,"H":6.2,"L":1.9,"S":1.7},{"x":250,"H":5.4,"L":2.0,"S":1.65},{"x":500,"H":5.3,"L":2.0,"S":1.6},{"x":750,"H":5.4,"L":2.05,"S":1.55},{"x":1000,"H":5.2,"L":2.0,"S":1.55},{"x":1250,"H":5.0,"L":2.0,"S":1.6},{"x":1500,"H":4.6,"L":1.95,"S":1.55},{"x":1750,"H":3.8,"L":2.0,"S":1.5},{"x":2000,"H":3.7,"L":1.95,"S":1.5}],
"A549 H3K79me2":[{"x":-2000,"H":6.9,"L":3.6,"S":2.1},{"x":-1750,"H":7.1,"L":3.5,"S":2.2},{"x":-1500,"H":7.8,"L":3.3,"S":2.0},{"x":-1250,"H":8.3,"L":3.0,"S":1.8},{"x":-1000,"H":7.8,"L":3.2,"S":2.0},{"x":-750,"H":7.2,"L":2.8,"S":1.7},{"x":-500,"H":7.4,"L":2.5,"S":1.8},{"x":-250,"H":7.0,"L":2.3,"S":2.0},{"x":0,"H":6.8,"L":2.7,"S":1.9},{"x":250,"H":7.0,"L":3.0,"S":2.0},{"x":500,"H":7.4,"L":3.3,"S":2.0},{"x":750,"H":6.5,"L":3.6,"S":1.9},{"x":1000,"H":6.0,"L":3.3,"S":2.1},{"x":1250,"H":5.7,"L":3.1,"S":2.0},{"x":1500,"H":5.2,"L":3.0,"S":1.8},{"x":1750,"H":4.6,"L":3.0,"S":1.8},{"x":2000,"H":4.0,"L":2.9,"S":1.8}],
"GM12878 H3K79me2":[{"x":-2000,"H":8.5,"L":4.4,"S":2.5},{"x":-1750,"H":8.3,"L":4.6,"S":2.4},{"x":-1500,"H":8.0,"L":4.6,"S":2.3},{"x":-1250,"H":8.3,"L":4.8,"S":2.3},{"x":-1000,"H":8.6,"L":4.9,"S":2.2},{"x":-750,"H":8.4,"L":4.6,"S":2.1},{"x":-500,"H":8.8,"L":4.3,"S":2.1},{"x":-250,"H":8.3,"L":4.1,"S":2.0},{"x":0,"H":9.7,"L":4.4,"S":2.0},{"x":250,"H":8.2,"L":5.3,"S":2.0},{"x":500,"H":7.6,"L":4.8,"S":1.9},{"x":750,"H":6.9,"L":4.9,"S":1.8},{"x":1000,"H":6.1,"L":5.0,"S":1.8},{"x":1250,"H":5.4,"L":4.5,"S":1.7},{"x":1500,"H":4.8,"L":4.7,"S":1.65},{"x":1750,"H":4.2,"L":4.0,"S":1.6},{"x":2000,"H":4.2,"L":3.6,"S":1.65}],
"H1 H3K79me2":[{"x":-2000,"H":4.8,"L":2.8,"S":1.6},{"x":-1750,"H":5.2,"L":2.8,"S":1.6},{"x":-1500,"H":5.7,"L":2.9,"S":1.65},{"x":-1250,"H":6.1,"L":2.6,"S":1.6},{"x":-1000,"H":6.3,"L":2.3,"S":1.6},{"x":-750,"H":5.9,"L":2.1,"S":1.55},{"x":-500,"H":5.5,"L":2.3,"S":1.5},{"x":-250,"H":5.3,"L":2.5,"S":1.55},{"x":0,"H":5.0,"L":2.5,"S":1.6},{"x":250,"H":4.7,"L":2.4,"S":1.6},{"x":500,"H":4.5,"L":2.5,"S":1.6},{"x":750,"H":4.1,"L":2.6,"S":1.65},{"x":1000,"H":3.6,"L":2.8,"S":1.6},{"x":1250,"H":3.2,"L":3.0,"S":1.65},{"x":1500,"H":2.8,"L":3.3,"S":1.7},{"x":1750,"H":2.4,"L":2.9,"S":1.7},{"x":2000,"H":2.0,"L":2.6,"S":1.7}],
"HeLa H3K79me2":[{"x":-2000,"H":4.7,"L":3.1,"S":1.6},{"x":-1750,"H":4.4,"L":3.0,"S":1.55},{"x":-1500,"H":4.7,"L":3.3,"S":1.6},{"x":-1250,"H":4.8,"L":3.0,"S":1.7},{"x":-1000,"H":4.3,"L":2.9,"S":1.6},{"x":-750,"H":4.0,"L":2.5,"S":1.5},{"x":-500,"H":5.0,"L":2.2,"S":1.65},{"x":-250,"H":4.4,"L":2.4,"S":1.7},{"x":0,"H":5.9,"L":2.2,"S":1.75},{"x":250,"H":4.2,"L":2.4,"S":1.6},{"x":500,"H":3.8,"L":2.5,"S":1.7},{"x":750,"H":3.6,"L":2.6,"S":1.8},{"x":1000,"H":3.2,"L":3.0,"S":1.75},{"x":1250,"H":3.1,"L":2.7,"S":1.8},{"x":1500,"H":2.9,"L":2.8,"S":1.8},{"x":1750,"H":2.7,"L":2.6,"S":1.7},{"x":2000,"H":2.5,"L":2.5,"S":1.7}],
"HepG2 H3K79me2":[{"x":-2000,"H":4.8,"L":3.7,"S":1.8},{"x":-1750,"H":5.4,"L":3.7,"S":1.85},{"x":-1500,"H":6.0,"L":3.65,"S":1.9},{"x":-1250,"H":6.6,"L":3.6,"S":1.9},{"x":-1000,"H":6.8,"L":3.5,"S":1.9},{"x":-750,"H":6.0,"L":3.4,"S":1.85},{"x":-500,"H":5.7,"L":3.3,"S":1.8},{"x":-250,"H":5.9,"L":3.2,"S":1.7},{"x":0,"H":5.5,"L":3.1,"S":1.75},{"x":250,"H":5.8,"L":2.7,"S":1.7},{"x":500,"H":5.0,"L":3.4,"S":1.7},{"x":750,"H":4.6,"L":3.3,"S":1.75},{"x":1000,"H":4.0,"L":3.4,"S":1.8},{"x":1250,"H":3.5,"L":3.5,"S":1.7},{"x":1500,"H":3.3,"L":3.3,"S":1.65},{"x":1750,"H":2.5,"L":3.8,"S":1.6},{"x":2000,"H":1.8,"L":2.9,"S":1.55}],
"K562 H3K79me2":[{"x":-2000,"H":11.0,"L":4.2,"S":3.0},{"x":-1750,"H":13.0,"L":4.4,"S":3.2},{"x":-1500,"H":16.5,"L":4.3,"S":3.3},{"x":-1250,"H":20.5,"L":4.5,"S":3.0},{"x":-1000,"H":24.0,"L":4.4,"S":2.7},{"x":-750,"H":23.0,"L":4.6,"S":2.6},{"x":-500,"H":22.2,"L":4.5,"S":2.5},{"x":-250,"H":20.0,"L":4.3,"S":2.5},{"x":0,"H":18.0,"L":4.5,"S":2.6},{"x":250,"H":16.5,"L":4.8,"S":2.6},{"x":500,"H":13.5,"L":5.2,"S":2.4},{"x":750,"H":11.0,"L":5.5,"S":2.3},{"x":1000,"H":9.0,"L":5.2,"S":2.3},{"x":1250,"H":7.0,"L":4.8,"S":2.2},{"x":1500,"H":5.5,"L":4.5,"S":2.2},{"x":1750,"H":4.5,"L":4.0,"S":2.2},{"x":2000,"H":3.8,"L":3.8,"S":2.2}],
"A549 H4K20me1":[{"x":-2000,"H":2.55,"L":2.0,"S":1.55},{"x":-1750,"H":2.45,"L":1.95,"S":1.6},{"x":-1500,"H":2.38,"L":1.9,"S":1.6},{"x":-1250,"H":2.5,"L":1.85,"S":1.57},{"x":-1000,"H":2.6,"L":1.9,"S":1.6},{"x":-750,"H":2.75,"L":1.8,"S":1.62},{"x":-500,"H":3.2,"L":1.7,"S":1.63},{"x":-250,"H":3.1,"L":1.8,"S":1.65},{"x":0,"H":3.4,"L":1.85,"S":1.68},{"x":250,"H":3.1,"L":1.75,"S":1.65},{"x":500,"H":3.05,"L":1.7,"S":1.62},{"x":750,"H":3.0,"L":1.85,"S":1.6},{"x":1000,"H":2.95,"L":1.9,"S":1.62},{"x":1250,"H":2.85,"L":1.95,"S":1.6},{"x":1500,"H":2.7,"L":2.0,"S":1.57},{"x":1750,"H":2.85,"L":2.0,"S":1.55},{"x":2000,"H":2.75,"L":2.0,"S":1.57}],
"GM12878 H4K20me1":[{"x":-2000,"H":1.85,"L":1.6,"S":1.45},{"x":-1750,"H":1.6,"L":1.55,"S":1.4},{"x":-1500,"H":1.55,"L":1.5,"S":1.35},{"x":-1250,"H":1.7,"L":1.55,"S":1.4},{"x":-1000,"H":1.6,"L":1.55,"S":1.4},{"x":-750,"H":1.9,"L":1.5,"S":1.45},{"x":-500,"H":2.15,"L":1.5,"S":1.5},{"x":-250,"H":2.3,"L":1.55,"S":1.5},{"x":0,"H":2.85,"L":1.6,"S":1.55},{"x":250,"H":2.0,"L":1.5,"S":1.45},{"x":500,"H":2.2,"L":1.45,"S":1.4},{"x":750,"H":1.9,"L":1.35,"S":1.35},{"x":1000,"H":2.25,"L":1.3,"S":1.3},{"x":1250,"H":1.7,"L":1.4,"S":1.35},{"x":1500,"H":1.85,"L":1.5,"S":1.35},{"x":1750,"H":1.6,"L":1.6,"S":1.35},{"x":2000,"H":1.8,"L":1.7,"S":1.3}],
"H1 H4K20me1":[{"x":-2000,"H":1.78,"L":1.9,"S":1.45},{"x":-1750,"H":1.95,"L":1.9,"S":1.48},{"x":-1500,"H":2.1,"L":1.85,"S":1.5},{"x":-1250,"H":2.2,"L":1.75,"S":1.5},{"x":-1000,"H":2.35,"L":1.7,"S":1.45},{"x":-750,"H":2.45,"L":1.75,"S":1.5},{"x":-500,"H":2.65,"L":1.85,"S":1.55},{"x":-250,"H":2.7,"L":1.9,"S":1.5},{"x":0,"H":2.65,"L":2.0,"S":1.55},{"x":250,"H":2.7,"L":1.85,"S":1.5},{"x":500,"H":2.6,"L":1.75,"S":1.45},{"x":750,"H":2.55,"L":1.75,"S":1.45},{"x":1000,"H":2.5,"L":1.95,"S":1.5},{"x":1250,"H":2.4,"L":2.05,"S":1.45},{"x":1500,"H":2.3,"L":2.1,"S":1.43},{"x":1750,"H":2.3,"L":1.95,"S":1.45},{"x":2000,"H":2.2,"L":1.9,"S":1.48}],
"HeLa H4K20me1":[{"x":-2000,"H":1.95,"L":1.6,"S":1.35},{"x":-1750,"H":1.7,"L":1.55,"S":1.3},{"x":-1500,"H":1.75,"L":1.5,"S":1.3},{"x":-1250,"H":1.6,"L":1.38,"S":1.32},{"x":-1000,"H":1.75,"L":1.45,"S":1.28},{"x":-750,"H":1.95,"L":1.3,"S":1.25},{"x":-500,"H":2.1,"L":1.25,"S":1.3},{"x":-250,"H":1.95,"L":1.32,"S":1.35},{"x":0,"H":2.4,"L":1.4,"S":1.38},{"x":250,"H":2.05,"L":1.3,"S":1.35},{"x":500,"H":2.0,"L":1.25,"S":1.3},{"x":750,"H":1.85,"L":1.4,"S":1.35},{"x":1000,"H":1.95,"L":1.5,"S":1.35},{"x":1250,"H":1.75,"L":1.82,"S":1.4},{"x":1500,"H":1.6,"L":1.6,"S":1.35},{"x":1750,"H":1.65,"L":1.65,"S":1.4},{"x":2000,"H":1.95,"L":1.6,"S":1.45}],
"HepG2 H4K20me1":[{"x":-2000,"H":2.2,"L":2.05,"S":1.5},{"x":-1750,"H":2.5,"L":2.1,"S":1.5},{"x":-1500,"H":2.6,"L":2.0,"S":1.48},{"x":-1250,"H":2.75,"L":2.1,"S":1.45},{"x":-1000,"H":3.0,"L":2.05,"S":1.42},{"x":-750,"H":2.85,"L":1.95,"S":1.4},{"x":-500,"H":3.0,"L":1.85,"S":1.43},{"x":-250,"H":3.2,"L":1.95,"S":1.45},{"x":0,"H":3.45,"L":1.9,"S":1.5},{"x":250,"H":3.05,"L":2.1,"S":1.42},{"x":500,"H":2.85,"L":2.0,"S":1.4},{"x":750,"H":2.8,"L":2.0,"S":1.42},{"x":1000,"H":2.6,"L":1.95,"S":1.4},{"x":1250,"H":2.5,"L":2.05,"S":1.4},{"x":1500,"H":2.45,"L":2.2,"S":1.38},{"x":1750,"H":2.25,"L":2.25,"S":1.38},{"x":2000,"H":2.2,"L":2.05,"S":1.4}],
"K562 H4K20me1":[{"x":-2000,"H":2.65,"L":1.75,"S":1.65},{"x":-1750,"H":2.65,"L":1.75,"S":1.65},{"x":-1500,"H":2.6,"L":1.7,"S":1.7},{"x":-1250,"H":2.6,"L":1.75,"S":1.65},{"x":-1000,"H":2.5,"L":1.7,"S":1.65},{"x":-750,"H":2.4,"L":1.75,"S":1.7},{"x":-500,"H":2.9,"L":1.8,"S":1.7},{"x":-250,"H":3.2,"L":1.85,"S":1.75},{"x":0,"H":3.9,"L":1.95,"S":1.75},{"x":250,"H":3.1,"L":1.85,"S":1.7},{"x":500,"H":3.4,"L":1.85,"S":1.65},{"x":750,"H":3.0,"L":1.8,"S":1.65},{"x":1000,"H":2.85,"L":1.85,"S":1.6},{"x":1250,"H":2.7,"L":1.95,"S":1.6},{"x":1500,"H":2.55,"L":2.05,"S":1.6},{"x":1750,"H":2.3,"L":1.9,"S":1.55},{"x":2000,"H":2.55,"L":1.85,"S":1.55}],
"A549 DNA":[{"x":-2000,"H":0.03,"L":0.02,"S":0.02},{"x":-1750,"H":0.05,"L":0.03,"S":0.02},{"x":-1500,"H":0.06,"L":0.04,"S":0.02},{"x":-1250,"H":0.09,"L":0.04,"S":0.03},{"x":-1000,"H":0.08,"L":0.04,"S":0.03},{"x":-750,"H":0.1,"L":0.05,"S":0.03},{"x":-500,"H":0.12,"L":0.05,"S":0.04},{"x":-250,"H":0.14,"L":0.06,"S":0.04},{"x":-125,"H":0.22,"L":0.1,"S":0.06},{"x":0,"H":0.35,"L":0.12,"S":0.08},{"x":125,"H":0.16,"L":0.07,"S":0.04},{"x":250,"H":0.1,"L":0.05,"S":0.03},{"x":500,"H":0.08,"L":0.04,"S":0.02},{"x":750,"H":0.06,"L":0.03,"S":0.02},{"x":1000,"H":0.04,"L":0.03,"S":0.02},{"x":1250,"H":0.03,"L":0.02,"S":0.02},{"x":1500,"H":0.03,"L":0.02,"S":0.02},{"x":1750,"H":0.05,"L":0.02,"S":0.02},{"x":2000,"H":0.02,"L":0.02,"S":0.02}],
"GM12878 DNA":[{"x":-2000,"H":0.01,"L":0.02,"S":0.01},{"x":-1750,"H":0.02,"L":0.02,"S":0.01},{"x":-1500,"H":0.03,"L":0.03,"S":0.02},{"x":-1250,"H":0.04,"L":0.03,"S":0.02},{"x":-1000,"H":0.06,"L":0.04,"S":0.02},{"x":-750,"H":0.07,"L":0.04,"S":0.03},{"x":-500,"H":0.09,"L":0.05,"S":0.03},{"x":-250,"H":0.1,"L":0.06,"S":0.04},{"x":-125,"H":0.18,"L":0.09,"S":0.06},{"x":0,"H":0.28,"L":0.11,"S":0.08},{"x":125,"H":0.14,"L":0.06,"S":0.04},{"x":250,"H":0.06,"L":0.04,"S":0.03},{"x":500,"H":0.04,"L":0.03,"S":0.02},{"x":750,"H":0.03,"L":0.02,"S":0.01},{"x":1000,"H":0.02,"L":0.02,"S":0.01},{"x":1250,"H":0.02,"L":0.02,"S":0.01},{"x":1500,"H":0.01,"L":0.02,"S":0.01},{"x":1750,"H":0.01,"L":0.02,"S":0.01},{"x":2000,"H":0.01,"L":0.02,"S":0.01}],
"H1 DNA":[{"x":-2000,"H":0.02,"L":0.02,"S":0.02},{"x":-1750,"H":0.03,"L":0.02,"S":0.02},{"x":-1500,"H":0.04,"L":0.03,"S":0.02},{"x":-1250,"H":0.06,"L":0.03,"S":0.03},{"x":-1000,"H":0.07,"L":0.04,"S":0.03},{"x":-750,"H":0.09,"L":0.05,"S":0.04},{"x":-500,"H":0.1,"L":0.06,"S":0.04},{"x":-250,"H":0.12,"L":0.07,"S":0.05},{"x":-125,"H":0.2,"L":0.1,"S":0.08},{"x":0,"H":0.27,"L":0.14,"S":0.1},{"x":125,"H":0.12,"L":0.07,"S":0.05},{"x":250,"H":0.06,"L":0.04,"S":0.03},{"x":500,"H":0.04,"L":0.03,"S":0.02},{"x":750,"H":0.03,"L":0.02,"S":0.02},{"x":1000,"H":0.02,"L":0.02,"S":0.02},{"x":1250,"H":0.02,"L":0.02,"S":0.02},{"x":1500,"H":0.01,"L":0.02,"S":0.02},{"x":1750,"H":0.01,"L":0.02,"S":0.02},{"x":2000,"H":0.01,"L":0.02,"S":0.02}],
"HeLa DNA":[{"x":-2000,"H":0.02,"L":0.02,"S":0.02},{"x":-1750,"H":0.03,"L":0.02,"S":0.02},{"x":-1500,"H":0.05,"L":0.03,"S":0.02},{"x":-1250,"H":0.07,"L":0.03,"S":0.03},{"x":-1000,"H":0.08,"L":0.04,"S":0.03},{"x":-750,"H":0.1,"L":0.05,"S":0.04},{"x":-500,"H":0.11,"L":0.06,"S":0.04},{"x":-250,"H":0.13,"L":0.07,"S":0.05},{"x":-125,"H":0.22,"L":0.11,"S":0.08},{"x":0,"H":0.37,"L":0.14,"S":0.1},{"x":125,"H":0.18,"L":0.07,"S":0.05},{"x":250,"H":0.1,"L":0.04,"S":0.03},{"x":500,"H":0.07,"L":0.03,"S":0.02},{"x":750,"H":0.05,"L":0.02,"S":0.02},{"x":1000,"H":0.04,"L":0.02,"S":0.02},{"x":1250,"H":0.03,"L":0.02,"S":0.02},{"x":1500,"H":0.02,"L":0.02,"S":0.02},{"x":1750,"H":0.03,"L":0.02,"S":0.02},{"x":2000,"H":0.02,"L":0.02,"S":0.02}],
"HepG2 DNA":[{"x":-2000,"H":0.01,"L":0.02,"S":0.01},{"x":-1750,"H":0.03,"L":0.02,"S":0.02},{"x":-1500,"H":0.05,"L":0.03,"S":0.02},{"x":-1250,"H":0.07,"L":0.04,"S":0.02},{"x":-1000,"H":0.09,"L":0.04,"S":0.03},{"x":-750,"H":0.1,"L":0.05,"S":0.03},{"x":-500,"H":0.12,"L":0.06,"S":0.04},{"x":-250,"H":0.12,"L":0.07,"S":0.05},{"x":-125,"H":0.24,"L":0.11,"S":0.07},{"x":0,"H":0.32,"L":0.14,"S":0.09},{"x":125,"H":0.14,"L":0.07,"S":0.04},{"x":250,"H":0.1,"L":0.04,"S":0.03},{"x":500,"H":0.07,"L":0.03,"S":0.02},{"x":750,"H":0.05,"L":0.02,"S":0.02},{"x":1000,"H":0.03,"L":0.02,"S":0.01},{"x":1250,"H":0.02,"L":0.02,"S":0.01},{"x":1500,"H":0.02,"L":0.02,"S":0.01},{"x":1750,"H":0.01,"L":0.01,"S":0.01},{"x":2000,"H":0.01,"L":0.01,"S":0.01}],
"K562 DNA":[{"x":-2000,"H":0.01,"L":0.01,"S":0.01},{"x":-1750,"H":0.02,"L":0.01,"S":0.01},{"x":-1500,"H":0.03,"L":0.02,"S":0.01},{"x":-1250,"H":0.05,"L":0.02,"S":0.02},{"x":-1000,"H":0.06,"L":0.03,"S":0.02},{"x":-750,"H":0.06,"L":0.03,"S":0.02},{"x":-500,"H":0.07,"L":0.03,"S":0.02},{"x":-250,"H":0.09,"L":0.04,"S":0.03},{"x":-125,"H":0.2,"L":0.06,"S":0.04},{"x":0,"H":0.28,"L":0.07,"S":0.05},{"x":125,"H":0.18,"L":0.04,"S":0.03},{"x":250,"H":0.1,"L":0.03,"S":0.02},{"x":500,"H":0.05,"L":0.02,"S":0.01},{"x":750,"H":0.03,"L":0.01,"S":0.01},{"x":1000,"H":0.02,"L":0.01,"S":0.01},{"x":1250,"H":0.01,"L":0.01,"S":0.01},{"x":1500,"H":0.01,"L":0.01,"S":0.01},{"x":1750,"H":0.01,"L":0.01,"S":0.01},{"x":2000,"H":0.01,"L":0.01,"S":0.01}]
},
"spacing":36,
"bounds":"flush",
"vconcat":[
{"width":717,"height":36,
"data":{"values":[{"s":"H","t1":"Highly","t2":"Expressed","t0":""},{"s":"L","t1":"Lowly","t2":"Expressed","t0":""},{"s":"S","t1":"","t2":"","t0":"Silenced"}]},
"encoding":{"x":{"field":"s","type":"nominal","axis":null,"scale":{"type":"point","padding":0.427}}},
"layer":[
{"mark":{"type":"text","fontWeight":"bold","fontSize":12,"dx":-52,"dy":-7,"color":"black"},"encoding":{"text":{"field":"t1","type":"nominal"}}},
{"mark":{"type":"text","fontWeight":"bold","fontSize":12,"dx":-52,"dy":7,"color":"black"},"encoding":{"text":{"field":"t2","type":"nominal"}}},
{"mark":{"type":"text","fontWeight":"bold","fontSize":12,"dx":-52,"color":"black"},"encoding":{"text":{"field":"t0","type":"nominal"}}},
{"mark":{"type":"tick","orient":"horizontal","size":87,"thickness":4,"xOffset":45,"opacity":1},"encoding":{"color":{"field":"s","type":"nominal"}}}
]},
{"columns":6,"spacing":{"row":12.7,"column":24.6},"bounds":"flush","concat":[
{"title":"A549","data":{"name":"A549 H3K4me1"},"transform":[{"fold":["H","L","S"],"as":["s","y"]}],"mark":"line","encoding":{"x":{"field":"x","type":"quantitative","title":null},"y":{"field":"y","type":"quantitative","title":"H3K4me1","scale":{"domain":[1,3]},"axis":{"values":[1,1.5,2,2.5,3]}},"color":{"field":"s","type":"nominal"}}},
{"title":"GM12878","data":{"name":"GM12878 H3K4me1"},"transform":[{"fold":["H","L","S"],"as":["s","y"]}],"mark":"line","encoding":{"x":{"field":"x","type":"quantitative","title":null},"y":{"field":"y","type":"quantitative","title":null,"scale":{"domain":[1,4]},"axis":{"values":[1,2,3,4]}},"color":{"field":"s","type":"nominal"}}},
{"title":"H1−hESC","data":{"name":"H1 H3K4me1"},"transform":[{"fold":["H","L","S"],"as":["s","y"]}],"mark":"line","encoding":{"x":{"field":"x","type":"quantitative","title":null},"y":{"field":"y","type":"quantitative","title":null,"scale":{"domain":[1.5,3.5]},"axis":{"values":[1.5,2,2.5,3,3.5]}},"color":{"field":"s","type":"nominal"}}},
{"title":"HeLa−S3","data":{"name":"HeLa H3K4me1"},"transform":[{"fold":["H","L","S"],"as":["s","y"]}],"mark":"line","encoding":{"x":{"field":"x","type":"quantitative","title":null},"y":{"field":"y","type":"quantitative","title":null,"scale":{"domain":[1,3]},"axis":{"values":[1,1.5,2,2.5,3]}},"color":{"field":"s","type":"nominal"}}},
{"title":"HepG2","data":{"name":"HepG2 H3K4me1"},"transform":[{"fold":["H","L","S"],"as":["s","y"]}],"mark":"line","encoding":{"x":{"field":"x","type":"quantitative","title":null},"y":{"field":"y","type":"quantitative","title":null,"scale":{"domain":[1,4]},"axis":{"values":[1,2,3,4]}},"color":{"field":"s","type":"nominal"}}},
{"title":"K562","data":{"name":"K562 H3K4me1"},"transform":[{"fold":["H","L","S"],"as":["s","y"]}],"mark":"line","encoding":{"x":{"field":"x","type":"quantitative","title":null},"y":{"field":"y","type":"quantitative","title":null,"scale":{"domain":[0,6]},"axis":{"values":[0,2,4,6]}},"color":{"field":"s","type":"nominal"}}},
{"data":{"name":"A549 H3K4me2"},"transform":[{"fold":["H","L","S"],"as":["s","y"]}],"mark":"line","encoding":{"x":{"field":"x","type":"quantitative","title":null},"y":{"field":"y","type":"quantitative","title":"H3K4me2","scale":{"domain":[0,8]},"axis":{"values":[0,2,4,6,8]}},"color":{"field":"s","type":"nominal"}}},
{"data":{"name":"GM12878 H3K4me2"},"transform":[{"fold":["H","L","S"],"as":["s","y"]}],"mark":"line","encoding":{"x":{"field":"x","type":"quantitative","title":null},"y":{"field":"y","type":"quantitative","title":null,"scale":{"domain":[0,8]},"axis":{"values":[0,2,4,6,8]}},"color":{"field":"s","type":"nominal"}}},
{"data":{"name":"H1 H3K4me2"},"transform":[{"fold":["H","L","S"],"as":["s","y"]}],"mark":"line","encoding":{"x":{"field":"x","type":"quantitative","title":null},"y":{"field":"y","type":"quantitative","title":null,"scale":{"domain":[0,10]},"axis":{"values":[0,5,10]}},"color":{"field":"s","type":"nominal"}}},
{"data":{"name":"HeLa H3K4me2"},"transform":[{"fold":["H","L","S"],"as":["s","y"]}],"mark":"line","encoding":{"x":{"field":"x","type":"quantitative","title":null},"y":{"field":"y","type":"quantitative","title":null,"scale":{"domain":[0,6]},"axis":{"values":[0,2,4,6]}},"color":{"field":"s","type":"nominal"}}},
{"data":{"name":"HepG2 H3K4me2"},"transform":[{"fold":["H","L","S"],"as":["s","y"]}],"mark":"line","encoding":{"x":{"field":"x","type":"quantitative","title":null},"y":{"field":"y","type":"quantitative","title":null,"scale":{"domain":[0,15]},"axis":{"values":[0,5,10,15]}},"color":{"field":"s","type":"nominal"}}},
{"data":{"name":"K562 H3K4me2"},"transform":[{"fold":["H","L","S"],"as":["s","y"]}],"mark":"line","encoding":{"x":{"field":"x","type":"quantitative","title":null},"y":{"field":"y","type":"quantitative","title":null,"scale":{"domain":[0,15]},"axis":{"values":[0,5,10,15]}},"color":{"field":"s","type":"nominal"}}},
{"data":{"name":"A549 H3K4me3"},"transform":[{"fold":["H","L","S"],"as":["s","y"]}],"mark":"line","encoding":{"x":{"field":"x","type":"quantitative","title":null},"y":{"field":"y","type":"quantitative","title":"H3K4me3","scale":{"domain":[0,15]},"axis":{"values":[0,5,10,15]}},"color":{"field":"s","type":"nominal"}}},
{"data":{"name":"GM12878 H3K4me3"},"transform":[{"fold":["H","L","S"],"as":["s","y"]}],"mark":"line","encoding":{"x":{"field":"x","type":"quantitative","title":null},"y":{"field":"y","type":"quantitative","title":null,"scale":{"domain":[0,8]},"axis":{"values":[0,2,4,6,8]}},"color":{"field":"s","type":"nominal"}}},
{"data":{"name":"H1 H3K4me3"},"transform":[{"fold":["H","L","S"],"as":["s","y"]}],"mark":"line","encoding":{"x":{"field":"x","type":"quantitative","title":null},"y":{"field":"y","type":"quantitative","title":null,"scale":{"domain":[0,10]},"axis":{"values":[0,5,10]}},"color":{"field":"s","type":"nominal"}}},
{"data":{"name":"HeLa H3K4me3"},"transform":[{"fold":["H","L","S"],"as":["s","y"]}],"mark":"line","encoding":{"x":{"field":"x","type":"quantitative","title":null},"y":{"field":"y","type":"quantitative","title":null,"scale":{"domain":[0,8]},"axis":{"values":[0,2,4,6,8]}},"color":{"field":"s","type":"nominal"}}},
{"data":{"name":"HepG2 H3K4me3"},"transform":[{"fold":["H","L","S"],"as":["s","y"]}],"mark":"line","encoding":{"x":{"field":"x","type":"quantitative","title":null},"y":{"field":"y","type":"quantitative","title":null,"scale":{"domain":[0,15]},"axis":{"values":[0,5,10,15]}},"color":{"field":"s","type":"nominal"}}},
{"data":{"name":"K562 H3K4me3"},"transform":[{"fold":["H","L","S"],"as":["s","y"]}],"mark":"line","encoding":{"x":{"field":"x","type":"quantitative","title":null},"y":{"field":"y","type":"quantitative","title":null,"scale":{"domain":[0,20]},"axis":{"values":[0,5,10,15,20]}},"color":{"field":"s","type":"nominal"}}},
{"data":{"name":"A549 H3K9ac"},"transform":[{"fold":["H","L","S"],"as":["s","y"]}],"mark":"line","encoding":{"x":{"field":"x","type":"quantitative","title":null},"y":{"field":"y","type":"quantitative","title":"H3K9ac","scale":{"domain":[0,15]},"axis":{"values":[0,5,10,15]}},"color":{"field":"s","type":"nominal"}}},
{"data":{"name":"GM12878 H3K9ac"},"transform":[{"fold":["H","L","S"],"as":["s","y"]}],"mark":"line","encoding":{"x":{"field":"x","type":"quantitative","title":null},"y":{"field":"y","type":"quantitative","title":null,"scale":{"domain":[0,10]},"axis":{"values":[0,5,10]}},"color":{"field":"s","type":"nominal"}}},
{"data":{"name":"H1 H3K9ac"},"transform":[{"fold":["H","L","S"],"as":["s","y"]}],"mark":"line","encoding":{"x":{"field":"x","type":"quantitative","title":null},"y":{"field":"y","type":"quantitative","title":null,"scale":{"domain":[0,8]},"axis":{"values":[0,2,4,6,8]}},"color":{"field":"s","type":"nominal"}}},
{"data":{"name":"HeLa H3K9ac"},"transform":[{"fold":["H","L","S"],"as":["s","y"]}],"mark":"line","encoding":{"x":{"field":"x","type":"quantitative","title":null},"y":{"field":"y","type":"quantitative","title":null,"scale":{"domain":[0,15]},"axis":{"values":[0,5,10,15]}},"color":{"field":"s","type":"nominal"}}},
{"data":{"name":"HepG2 H3K9ac"},"transform":[{"fold":["H","L","S"],"as":["s","y"]}],"mark":"line","encoding":{"x":{"field":"x","type":"quantitative","title":null},"y":{"field":"y","type":"quantitative","title":null,"scale":{"domain":[0,10]},"axis":{"values":[0,5,10]}},"color":{"field":"s","type":"nominal"}}},
{"data":{"name":"K562 H3K9ac"},"transform":[{"fold":["H","L","S"],"as":["s","y"]}],"mark":"line","encoding":{"x":{"field":"x","type":"quantitative","title":null},"y":{"field":"y","type":"quantitative","title":null,"scale":{"domain":[0,30]},"axis":{"values":[0,10,20,30]}},"color":{"field":"s","type":"nominal"}}},
{"data":{"name":"A549 H3K27ac"},"transform":[{"fold":["H","L","S"],"as":["s","y"]}],"mark":"line","encoding":{"x":{"field":"x","type":"quantitative","title":null},"y":{"field":"y","type":"quantitative","title":"H3K27ac","scale":{"domain":[0,15]},"axis":{"values":[0,5,10,15]}},"color":{"field":"s","type":"nominal"}}},
{"data":{"name":"GM12878 H3K27ac"},"transform":[{"fold":["H","L","S"],"as":["s","y"]}],"mark":"line","encoding":{"x":{"field":"x","type":"quantitative","title":null},"y":{"field":"y","type":"quantitative","title":null,"scale":{"domain":[0,10]},"axis":{"values":[0,5,10]}},"color":{"field":"s","type":"nominal"}}},
{"data":{"name":"H1 H3K27ac"},"transform":[{"fold":["H","L","S"],"as":["s","y"]}],"mark":"line","encoding":{"x":{"field":"x","type":"quantitative","title":null},"y":{"field":"y","type":"quantitative","title":null,"scale":{"domain":[1,5]},"axis":{"values":[1,2,3,4,5]}},"color":{"field":"s","type":"nominal"}}},
{"data":{"name":"HeLa H3K27ac"},"transform":[{"fold":["H","L","S"],"as":["s","y"]}],"mark":"line","encoding":{"x":{"field":"x","type":"quantitative","title":null},"y":{"field":"y","type":"quantitative","title":null,"scale":{"domain":[0,15]},"axis":{"values":[0,5,10,15]}},"color":{"field":"s","type":"nominal"}}},
{"data":{"name":"HepG2 H3K27ac"},"transform":[{"fold":["H","L","S"],"as":["s","y"]}],"mark":"line","encoding":{"x":{"field":"x","type":"quantitative","title":null},"y":{"field":"y","type":"quantitative","title":null,"scale":{"domain":[0,10]},"axis":{"values":[0,5,10]}},"color":{"field":"s","type":"nominal"}}},
{"data":{"name":"K562 H3K27ac"},"transform":[{"fold":["H","L","S"],"as":["s","y"]}],"mark":"line","encoding":{"x":{"field":"x","type":"quantitative","title":null},"y":{"field":"y","type":"quantitative","title":null,"scale":{"domain":[0,15]},"axis":{"values":[0,5,10,15]}},"color":{"field":"s","type":"nominal"}}},
{"data":{"name":"A549 H3K36me3"},"transform":[{"fold":["H","L","S"],"as":["s","y"]}],"mark":"line","encoding":{"x":{"field":"x","type":"quantitative","title":null},"y":{"field":"y","type":"quantitative","title":"H3K36me3","scale":{"domain":[1,5]},"axis":{"values":[1,2,3,4,5]}},"color":{"field":"s","type":"nominal"}}},
{"data":{"name":"GM12878 H3K36me3"},"transform":[{"fold":["H","L","S"],"as":["s","y"]}],"mark":"line","encoding":{"x":{"field":"x","type":"quantitative","title":null},"y":{"field":"y","type":"quantitative","title":null,"scale":{"domain":[1,5]},"axis":{"values":[1,2,3,4,5]}},"color":{"field":"s","type":"nominal"}}},
{"data":{"name":"H1 H3K36me3"},"transform":[{"fold":["H","L","S"],"as":["s","y"]}],"mark":"line","encoding":{"x":{"field":"x","type":"quantitative","title":null},"y":{"field":"y","type":"quantitative","title":null,"scale":{"domain":[1,4]},"axis":{"values":[1,2,3,4]}},"color":{"field":"s","type":"nominal"}}},
{"data":{"name":"HeLa H3K36me3"},"transform":[{"fold":["H","L","S"],"as":["s","y"]}],"mark":"line","encoding":{"x":{"field":"x","type":"quantitative","title":null},"y":{"field":"y","type":"quantitative","title":null,"scale":{"domain":[1,4]},"axis":{"values":[1,2,3,4]}},"color":{"field":"s","type":"nominal"}}},
{"data":{"name":"HepG2 H3K36me3"},"transform":[{"fold":["H","L","S"],"as":["s","y"]}],"mark":"line","encoding":{"x":{"field":"x","type":"quantitative","title":null},"y":{"field":"y","type":"quantitative","title":null,"scale":{"domain":[1,5]},"axis":{"values":[1,2,3,4,5]}},"color":{"field":"s","type":"nominal"}}},
{"data":{"name":"K562 H3K36me3"},"transform":[{"fold":["H","L","S"],"as":["s","y"]}],"mark":"line","encoding":{"x":{"field":"x","type":"quantitative","title":null},"y":{"field":"y","type":"quantitative","title":null,"scale":{"domain":[0,8]},"axis":{"values":[0,2,4,6,8]}},"color":{"field":"s","type":"nominal"}}},
{"data":{"name":"A549 H3K79me2"},"transform":[{"fold":["H","L","S"],"as":["s","y"]}],"mark":"line","encoding":{"x":{"field":"x","type":"quantitative","title":null},"y":{"field":"y","type":"quantitative","title":"H3K79me2","scale":{"domain":[0,10]},"axis":{"values":[0,5,10]}},"color":{"field":"s","type":"nominal"}}},
{"data":{"name":"GM12878 H3K79me2"},"transform":[{"fold":["H","L","S"],"as":["s","y"]}],"mark":"line","encoding":{"x":{"field":"x","type":"quantitative","title":null},"y":{"field":"y","type":"quantitative","title":null,"scale":{"domain":[0,10]},"axis":{"values":[0,5,10]}},"color":{"field":"s","type":"nominal"}}},
{"data":{"name":"H1 H3K79me2"},"transform":[{"fold":["H","L","S"],"as":["s","y"]}],"mark":"line","encoding":{"x":{"field":"x","type":"quantitative","title":null},"y":{"field":"y","type":"quantitative","title":null,"scale":{"domain":[0,8]},"axis":{"values":[0,2,4,6,8]}},"color":{"field":"s","type":"nominal"}}},
{"data":{"name":"HeLa H3K79me2"},"transform":[{"fold":["H","L","S"],"as":["s","y"]}],"mark":"line","encoding":{"x":{"field":"x","type":"quantitative","title":null},"y":{"field":"y","type":"quantitative","title":null,"scale":{"domain":[0,6]},"axis":{"values":[0,2,4,6]}},"color":{"field":"s","type":"nominal"}}},
{"data":{"name":"HepG2 H3K79me2"},"transform":[{"fold":["H","L","S"],"as":["s","y"]}],"mark":"line","encoding":{"x":{"field":"x","type":"quantitative","title":null},"y":{"field":"y","type":"quantitative","title":null,"scale":{"domain":[0,8]},"axis":{"values":[0,2,4,6,8]}},"color":{"field":"s","type":"nominal"}}},
{"data":{"name":"K562 H3K79me2"},"transform":[{"fold":["H","L","S"],"as":["s","y"]}],"mark":"line","encoding":{"x":{"field":"x","type":"quantitative","title":null},"y":{"field":"y","type":"quantitative","title":null,"scale":{"domain":[0,30]},"axis":{"values":[0,10,20,30]}},"color":{"field":"s","type":"nominal"}}},
{"data":{"name":"A549 H4K20me1"},"transform":[{"fold":["H","L","S"],"as":["s","y"]}],"mark":"line","encoding":{"x":{"field":"x","type":"quantitative","title":null},"y":{"field":"y","type":"quantitative","title":"H4K20me1","scale":{"domain":[1.5,3.5]},"axis":{"values":[1.5,2,2.5,3,3.5]}},"color":{"field":"s","type":"nominal"}}},
{"data":{"name":"GM12878 H4K20me1"},"transform":[{"fold":["H","L","S"],"as":["s","y"]}],"mark":"line","encoding":{"x":{"field":"x","type":"quantitative","title":null},"y":{"field":"y","type":"quantitative","title":null,"scale":{"domain":[1,3]},"axis":{"values":[1,1.5,2,2.5,3]}},"color":{"field":"s","type":"nominal"}}},
{"data":{"name":"H1 H4K20me1"},"transform":[{"fold":["H","L","S"],"as":["s","y"]}],"mark":"line","encoding":{"x":{"field":"x","type":"quantitative","title":null},"y":{"field":"y","type":"quantitative","title":null,"scale":{"domain":[1,3]},"axis":{"values":[1,1.5,2,2.5,3]}},"color":{"field":"s","type":"nominal"}}},
{"data":{"name":"HeLa H4K20me1"},"transform":[{"fold":["H","L","S"],"as":["s","y"]}],"mark":"line","encoding":{"x":{"field":"x","type":"quantitative","title":null},"y":{"field":"y","type":"quantitative","title":null,"scale":{"domain":[1,2.5]},"axis":{"values":[1,1.5,2,2.5]}},"color":{"field":"s","type":"nominal"}}},
{"data":{"name":"HepG2 H4K20me1"},"transform":[{"fold":["H","L","S"],"as":["s","y"]}],"mark":"line","encoding":{"x":{"field":"x","type":"quantitative","title":null},"y":{"field":"y","type":"quantitative","title":null,"scale":{"domain":[1,4]},"axis":{"values":[1,2,3,4]}},"color":{"field":"s","type":"nominal"}}},
{"data":{"name":"K562 H4K20me1"},"transform":[{"fold":["H","L","S"],"as":["s","y"]}],"mark":"line","encoding":{"x":{"field":"x","type":"quantitative","title":null},"y":{"field":"y","type":"quantitative","title":null,"scale":{"domain":[1,4]},"axis":{"values":[1,2,3,4]}},"color":{"field":"s","type":"nominal"}}},
{"data":{"name":"A549 DNA"},"transform":[{"fold":["H","L","S"],"as":["s","y"]}],"mark":"line","encoding":{"x":{"field":"x","type":"quantitative","title":null,"axis":{"labels":true}},"y":{"field":"y","type":"quantitative","title":"DNA Methylation","scale":{"domain":[0,0.4]},"axis":{"values":[0,0.1,0.2,0.3,0.4]}},"color":{"field":"s","type":"nominal"}}},
{"data":{"name":"GM12878 DNA"},"transform":[{"fold":["H","L","S"],"as":["s","y"]}],"mark":"line","encoding":{"x":{"field":"x","type":"quantitative","title":null,"axis":{"labels":true}},"y":{"field":"y","type":"quantitative","title":null,"scale":{"domain":[0,0.4]},"axis":{"values":[0,0.1,0.2,0.3,0.4]}},"color":{"field":"s","type":"nominal"}}},
{"data":{"name":"H1 DNA"},"transform":[{"fold":["H","L","S"],"as":["s","y"]}],"mark":"line","encoding":{"x":{"field":"x","type":"quantitative","title":null,"axis":{"labels":true}},"y":{"field":"y","type":"quantitative","title":null,"scale":{"domain":[0,0.4]},"axis":{"values":[0,0.1,0.2,0.3,0.4]}},"color":{"field":"s","type":"nominal"}}},
{"data":{"name":"HeLa DNA"},"transform":[{"fold":["H","L","S"],"as":["s","y"]}],"mark":"line","encoding":{"x":{"field":"x","type":"quantitative","title":null,"axis":{"labels":true}},"y":{"field":"y","type":"quantitative","title":null,"scale":{"domain":[0,0.4]},"axis":{"values":[0,0.1,0.2,0.3,0.4]}},"color":{"field":"s","type":"nominal"}}},
{"data":{"name":"HepG2 DNA"},"transform":[{"fold":["H","L","S"],"as":["s","y"]}],"mark":"line","encoding":{"x":{"field":"x","type":"quantitative","title":null,"axis":{"labels":true}},"y":{"field":"y","type":"quantitative","title":null,"scale":{"domain":[0,0.4]},"axis":{"values":[0,0.1,0.2,0.3,0.4]}},"color":{"field":"s","type":"nominal"}}},
{"data":{"name":"K562 DNA"},"transform":[{"fold":["H","L","S"],"as":["s","y"]}],"mark":"line","encoding":{"x":{"field":"x","type":"quantitative","title":null,"axis":{"labels":true}},"y":{"field":"y","type":"quantitative","title":null,"scale":{"domain":[0,0.4]},"axis":{"values":[0,0.1,0.2,0.3,0.4]}},"color":{"field":"s","type":"nominal"}}}
]}
]
}
